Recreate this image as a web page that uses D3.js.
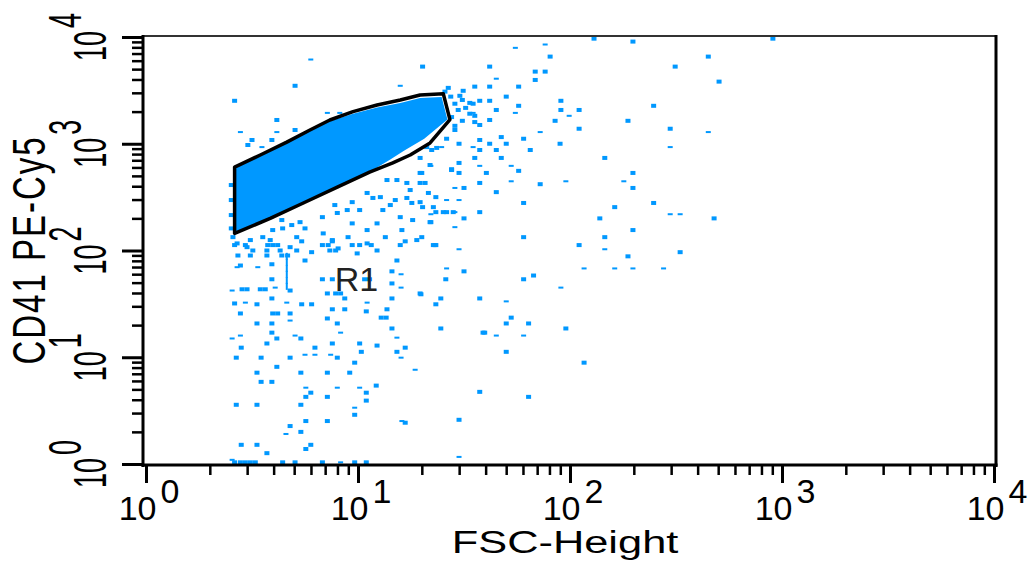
<!DOCTYPE html>
<html>
  <head>
    <meta charset="utf-8">
    <title>CD41 PE-Cy5 vs FSC-Height</title>
    <script src="https://d3js.org/d3.v7.min.js"></script>
    <style>
      body { margin: 0; background: #fff; }
      text { font-family: "Liberation Sans", Arial, Helvetica, sans-serif; fill: #000; }
    </style>
  </head>
  <body>
    <svg width="1029" height="567"></svg>
    <script>
      // axis decades (10^0 .. 10^4) and titles
      const decades = [0, 1, 2, 3, 4];
      const xTitle = "FSC-Height";
      const yTitle = "CD41 PE-Cy5";
      const gateName = "R1";
      const gateLabelAt = [228, 416];

      // events as [FSC channel, CD41 channel], 1024 channels over 4 decades
      const events = [
        [541,1020],[588,1013],[757,1020],[488,977],[679,977],[334,953],[415,953],[639,953],[470,941],[482,941],
        [470,921],[692,917],[397,905],[415,905],[450,905],[383,895],[379,883],[435,881],[403,871],[415,871],
        [501,871],[450,859],[423,849],[501,849],[523,849],[613,859],[391,866],[397,835],[415,825],[494,823],
        [582,823],[403,813],[523,804],[633,804],[373,801],[363,780],[403,777],[429,784],[456,780],[378,768],
        [415,768],[435,768],[500,768],[403,753],[423,753],[464,753],[345,753],[397,734],[429,734],[554,734],
        [378,722],[369,707],[450,703],[378,698],[411,698],[588,698],[333,698],[337,674],[403,674],[476,671],
        [588,662],[384,662],[423,652],[350,640],[456,626],[566,616],[613,626],[334,616],[350,604],[363,604],
        [403,604],[384,589],[548,589],[686,589],[344,580],[588,561],[456,544],[554,544],[333,544],[350,525],
        [523,525],[645,508],[582,498],[384,462],[362,443],[456,443],[468,452],[332,407],[356,397],[350,383],
        [403,397],[441,351],[435,337],[462,337],[507,325],[356,325],[409,315],[435,269],[529,243],[403,173],
        [462,161],[378,106],
        [107,525],[120,525],[147,525],[153,525],[159,525],[188,534],[213,525],[220,525],[225,534],[249,525],
        [258,525],[272,525],[313,534],[307,525],[349,525],[111,500],[126,500],[146,500],[164,500],[171,500],
        [182,512],[200,508],[222,512],[229,512],[192,488],[303,488],[114,476],[152,479],[297,462],[152,443],
        [213,443],[225,443],[264,443],[270,443],[297,433],[116,419],[122,419],[138,419],[144,419],[174,416],
        [219,409],[229,409],[235,409],[240,397],[297,397],[331,409],[107,385],[134,383],[152,397],[188,383],
        [200,383],[225,371],[240,371],[266,366],[291,371],[114,361],[153,361],[159,361],[174,361],[219,349],
        [284,351],[290,351],[134,337],[152,337],[231,337],[297,325],[152,315],[407,315],[146,289],[158,301],
        [187,301],[225,289],[258,289],[279,284],[313,279],[115,279],[204,279],[260,269],[303,269],[109,255],
        [139,255],[174,255],[231,255],[252,243],[158,233],[134,219],[187,219],[219,219],[246,219],[139,197],
        [152,197],[278,188],[199,171],[193,161],[219,161],[266,171],[266,152],[109,142],[134,142],[187,142],
        [252,118],[193,103],[219,103],[313,99],[174,91],[187,77],[115,46],[134,46],[199,46],[193,36],[146,26],
        [107,4],[114,4],[120,4],[126,4],[132,4],[165,4],[180,4],[213,4],[252,4],[266,4],
        [180,907],[107,871],[158,825],[180,801],[128,777],[152,777],[123,765],
        [103,669],[103,633],[103,597],[103,565],[105,544],[110,529],[126,537],[122,520],[141,544],[150,537],
        [153,561],[165,565],[164,585],[176,573],[186,580],[192,565],[182,544],[174,520],[162,512],[146,512],
        [129,512],[213,592],[228,621],[231,602],[243,609],[249,628],[258,609],[267,650],[274,638],[214,553],
        [225,537],[232,517],[244,544],[249,577],[267,561],[279,577],[286,609],[295,621],[301,633],[315,638],
        [321,626],[331,628],[307,592],[322,585],[343,580],[309,561],[327,537],[347,525],[289,544],[267,529],
        [279,512],[255,505],[315,674],[331,674],[319,657],[341,650],[347,616],[359,604],[371,604],[369,705],
        [343,717],[331,698],[291,681],[283,640],[303,681],[339,760],[351,758],[331,734],
        [368,881],[373,864],[377,849],[369,832],[382,873],[386,854],[395,864],[391,840],[382,823],[373,811],
        [397,820],[361,893],[365,902]
      ];

      // low-count events (drawn as short dashes)
      const faintEvents = [
        [446,998],[482,1006],[423,924],[446,842],[395,842],[511,835],[476,796],[679,796],[357,760],[395,760],
        [633,760],[344,715],[403,715],[441,715],[441,678],[507,678],[577,678],[373,662],[363,633],[378,633],
        [373,604],[344,599],[633,599],[645,599],[373,568],[378,515],[554,515],[363,469],[529,469],[566,469],
        [588,469],[625,469],[501,423],[435,390],[423,308],[456,308],[378,17],
        [135,472],[110,472],[308,455],[308,423],[104,416],[156,423],[267,387],[120,387],[170,387],[174,344],
        [235,315],[104,301],[114,308],[180,308],[303,303],[192,262],[204,262],[223,262],[308,255],[325,226],
        [193,183],[231,183],[258,183],[252,135],[309,103],[169,72],[104,10],[235,4],
        [199,970],[307,907],[219,842],[234,842],[114,796],[158,796],[140,760]
      ];

      // vertical streak at a fixed FSC channel
      const streakEvents = [[170,498],[170,484],[170,469],[170,455],[170,440],[170,426]];

      // region R1 and the dense population inside it
      const gateVertices = [
        [107,553],[107,712],[138,741],[170,772],[198,801],[222,825],[250,845],[279,861],[307,873],[331,885],
        [359,888],[367,826],[343,770],[319,741],[298,722],[270,700],[231,664],[190,626],[150,589]
      ];
      const corePopulation = [
        [107,553],[107,712],[138,741],[170,772],[198,801],[222,822],[250,840],[279,855],[307,866],[331,878],
        [357,880],[364,826],[336,780],[312,752],[295,730],[270,700],[231,664],[190,626],[150,589]
      ];

      const blue = "#0098ff";
      const toValue = ch => Math.pow(10, ch / 256);

      const svg = d3.select("svg");
      const xScale = d3.scaleLog().domain([1, 1e4]).range([146, 994]);
      const yScale = d3.scaleLog().domain([1, 1e4]).range([464, 37]);
      const px = d => xScale(toValue(d[0]));
      const py = d => yScale(toValue(d[1]));

      const majors = decades.map(e => Math.pow(10, e));
      const minors = d3.range(0, 4).flatMap(e => d3.range(2, 10).map(k => k * Math.pow(10, e)));

      // events
      const plot = svg.append("g");
      plot.selectAll("rect.ev").data(events).enter().append("rect")
          .attr("class", "ev")
          .attr("x", d => px(d) - 2.5).attr("y", d => py(d) - 2)
          .attr("width", 5).attr("height", 4)
          .attr("fill", blue);
      plot.selectAll("rect.faint").data(faintEvents).enter().append("rect")
          .attr("class", "faint")
          .attr("x", d => px(d) - 2.5).attr("y", d => py(d) - 1)
          .attr("width", 5).attr("height", 2)
          .attr("fill", blue);
      plot.selectAll("rect.streak").data(streakEvents).enter().append("rect")
          .attr("class", "streak")
          .attr("x", d => px(d) - 1).attr("y", d => py(d) - 3.5)
          .attr("width", 2).attr("height", 7)
          .attr("fill", blue);

      const line = d3.line().x(px).y(py).curve(d3.curveLinearClosed);
      plot.append("path").attr("d", line(corePopulation)).attr("fill", blue);
      plot.append("path").attr("d", line(gateVertices))
          .attr("fill", "none").attr("stroke", "#000")
          .attr("stroke-width", 3.5).attr("stroke-linejoin", "round");

      plot.append("text")
          .attr("x", px(gateLabelAt)).attr("y", py(gateLabelAt))
          .attr("font-size", 34).style("fill", "#222")
          .text(gateName);

      // axes
      function styleTicks(g, w) {
        g.select(".domain").remove();
        g.selectAll(".tick line").attr("stroke", "#000").attr("stroke-width", w);
        g.selectAll(".tick text").remove();
      }
      const xMinor = svg.append("g").attr("transform", "translate(0,466)")
          .call(d3.axisBottom(xScale).tickValues(minors).tickSize(9).tickFormat(""));
      styleTicks(xMinor, 2.5);
      const xMajor = svg.append("g").attr("transform", "translate(0,466)")
          .call(d3.axisBottom(xScale).tickValues(majors).tickSize(17).tickFormat(""));
      styleTicks(xMajor, 3);
      const yMinor = svg.append("g").attr("transform", "translate(142,0)")
          .call(d3.axisLeft(yScale).tickValues(minors).tickSize(10).tickFormat(""));
      styleTicks(yMinor, 2.5);
      const yMajor = svg.append("g").attr("transform", "translate(142,0)")
          .call(d3.axisLeft(yScale).tickValues(majors).tickSize(20).tickFormat(""));
      styleTicks(yMajor, 3);

      // frame
      const frame = svg.append("g").attr("stroke", "#000");
      frame.append("line").attr("x1", 143).attr("x2", 997).attr("y1", 36).attr("y2", 36)
          .attr("stroke-width", 2).attr("stroke", "#333");
      frame.append("line").attr("x1", 996).attr("x2", 996).attr("y1", 35).attr("y2", 467).attr("stroke-width", 3);
      frame.append("line").attr("x1", 143).attr("x2", 143).attr("y1", 35).attr("y2", 467).attr("stroke-width", 3);
      frame.append("line").attr("x1", 141.5).attr("x2", 997.5).attr("y1", 465).attr("y2", 465).attr("stroke-width", 3);

      // tick labels 10^n
      decades.forEach(e => {
        const v = Math.pow(10, e);
        const tx = svg.append("text")
            .attr("transform", `translate(${xScale(v) + 3},520)`)
            .attr("text-anchor", "middle").attr("font-size", 34);
        tx.append("tspan").text("10");
        tx.append("tspan").attr("dx", 4).attr("dy", -17).text(e);

        const ty = svg.append("text")
            .attr("transform", `translate(106,${yScale(v)}) rotate(-90) scale(1,1.7)`)
            .attr("text-anchor", "middle").attr("font-size", 27);
        ty.append("tspan").text("10");
        ty.append("tspan").attr("dx", 3).attr("dy", -14.5).text(e);
      });

      // axis titles
      svg.append("text")
          .attr("transform", "translate(565,553) scale(1.4,1)")
          .attr("text-anchor", "middle").attr("font-size", 31)
          .text(xTitle);
      svg.append("text")
          .attr("transform", "translate(45,250) rotate(-90) scale(1,1.4)")
          .attr("text-anchor", "middle").attr("font-size", 33)
          .attr("letter-spacing", 2)
          .text(yTitle);
    </script>
  </body>
</html>
